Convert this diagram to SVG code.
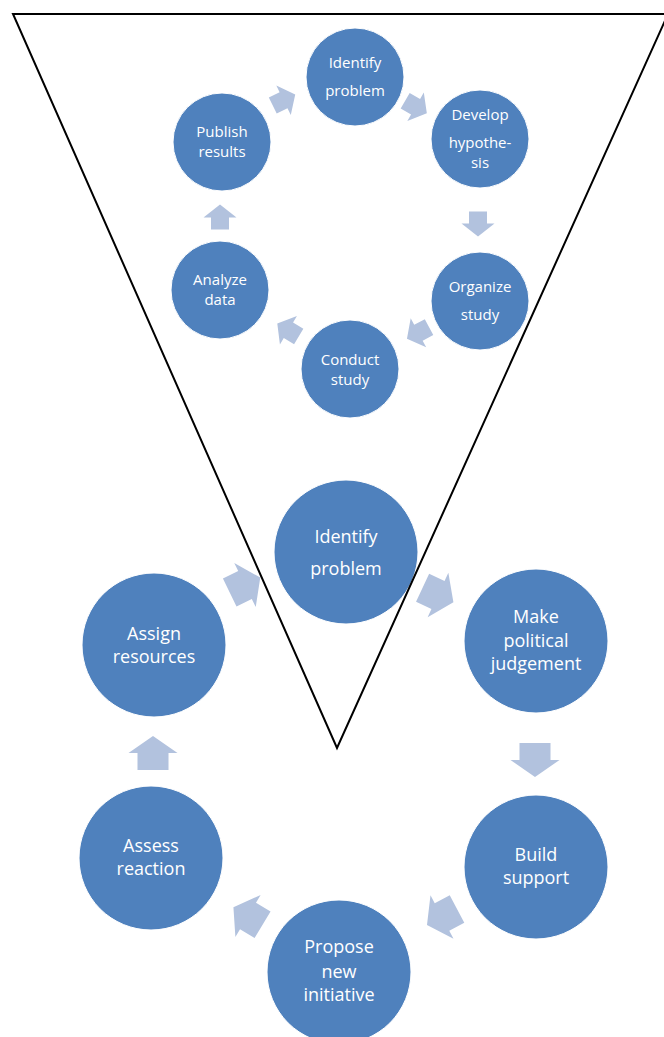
<svg xmlns="http://www.w3.org/2000/svg" width="664" height="1037" viewBox="0 0 664 1037">
  <style>
    .node { fill: #4F81BD; stroke: #FFFFFF; stroke-width: 1; }
    .arrow { fill: #B2C2DE; }
    .sm text { font-family: "Open Sans", "Liberation Sans", sans-serif; font-size: 15px; fill: #FFFFFF; text-anchor: middle; }
    .lg text { font-family: "Open Sans", "Liberation Sans", sans-serif; font-size: 18px; fill: #FFFFFF; text-anchor: middle; }
    .funnel { fill: none; stroke: #000000; stroke-width: 2; stroke-linejoin: miter; }
  </style>
  <defs>
    <!-- block arrows pointing along +x, centred on the origin -->
    <path id="arrowSmall" d="M-12.5,-9 L-0.5,-9 L-0.5,-16.5 L12.5,0 L-0.5,16.5 L-0.5,9 L-12.5,9 Z"/>
    <path id="arrowLarge" d="M-17,-15.5 L0,-15.5 L0,-24.5 L17,0 L0,24.5 L0,15.5 L-17,15.5 Z"/>
  </defs>

  <rect width="664" height="1037" fill="#FFFFFF"/>

  <!-- connectors: research cycle (small) and policy cycle (large) -->
  <g id="connectors" class="arrow">
    <use href="#arrowSmall" transform="translate(284,100) rotate(-26)"/>
    <use href="#arrowSmall" transform="translate(416,107) rotate(30)"/>
    <use href="#arrowSmall" transform="translate(478,224) rotate(90)"/>
    <use href="#arrowSmall" transform="translate(418,333) rotate(152)"/>
    <use href="#arrowSmall" transform="translate(288,330) rotate(211)"/>
    <use href="#arrowSmall" transform="translate(220,217) rotate(-90)"/>

    <use href="#arrowLarge" transform="translate(245,585) rotate(-26)"/>
    <use href="#arrowLarge" transform="translate(438,595) rotate(25)"/>
    <use href="#arrowLarge" transform="translate(535,760) rotate(90)"/>
    <use href="#arrowLarge" transform="translate(442,917) rotate(152)"/>
    <use href="#arrowLarge" transform="translate(248,916) rotate(211)"/>
    <use href="#arrowLarge" transform="translate(153,753) rotate(-90)"/>
  </g>

  <!-- research cycle -->
  <g id="r-identify" class="sm">
    <circle class="node" cx="355" cy="77" r="49"/>
    <text x="355" y="68">Identify</text>
    <text x="355" y="96">problem</text>
  </g>
  <g id="r-develop" class="sm">
    <circle class="node" cx="480" cy="139" r="49"/>
    <text x="480" y="120">Develop</text>
    <text x="480" y="148">hypothe-</text>
    <text x="480" y="168">sis</text>
  </g>
  <g id="r-organize" class="sm">
    <circle class="node" cx="480" cy="301" r="49"/>
    <text x="480" y="292">Organize</text>
    <text x="480" y="320">study</text>
  </g>
  <g id="r-conduct" class="sm">
    <circle class="node" cx="350" cy="369" r="49"/>
    <text x="350" y="365">Conduct</text>
    <text x="350" y="385">study</text>
  </g>
  <g id="r-analyze" class="sm">
    <circle class="node" cx="220" cy="290" r="49"/>
    <text x="220" y="285">Analyze</text>
    <text x="220" y="305">data</text>
  </g>
  <g id="r-publish" class="sm">
    <circle class="node" cx="222" cy="142" r="49"/>
    <text x="222" y="137">Publish</text>
    <text x="222" y="157">results</text>
  </g>

  <!-- policy cycle -->
  <g id="p-identify" class="lg">
    <circle class="node" cx="346" cy="552" r="72"/>
    <text x="346" y="543">Identify</text>
    <text x="346" y="575">problem</text>
  </g>
  <g id="p-judgement" class="lg">
    <circle class="node" cx="536" cy="641" r="72"/>
    <text x="536" y="623">Make</text>
    <text x="536" y="647">political</text>
    <text x="536" y="670">judgement</text>
  </g>
  <g id="p-support" class="lg">
    <circle class="node" cx="536" cy="867" r="72"/>
    <text x="536" y="861">Build</text>
    <text x="536" y="884">support</text>
  </g>
  <g id="p-propose" class="lg">
    <circle class="node" cx="339" cy="972" r="72"/>
    <text x="339" y="953">Propose</text>
    <text x="339" y="978">new</text>
    <text x="339" y="1001">initiative</text>
  </g>
  <g id="p-assess" class="lg">
    <circle class="node" cx="151" cy="858" r="72"/>
    <text x="151" y="852">Assess</text>
    <text x="151" y="875">reaction</text>
  </g>
  <g id="p-assign" class="lg">
    <circle class="node" cx="154" cy="645" r="72"/>
    <text x="154" y="640">Assign</text>
    <text x="154" y="663">resources</text>
  </g>

  <!-- funnel outline -->
  <path id="funnel" class="funnel" d="M13,14 L668,14 L337,748 Z"/>
</svg>
